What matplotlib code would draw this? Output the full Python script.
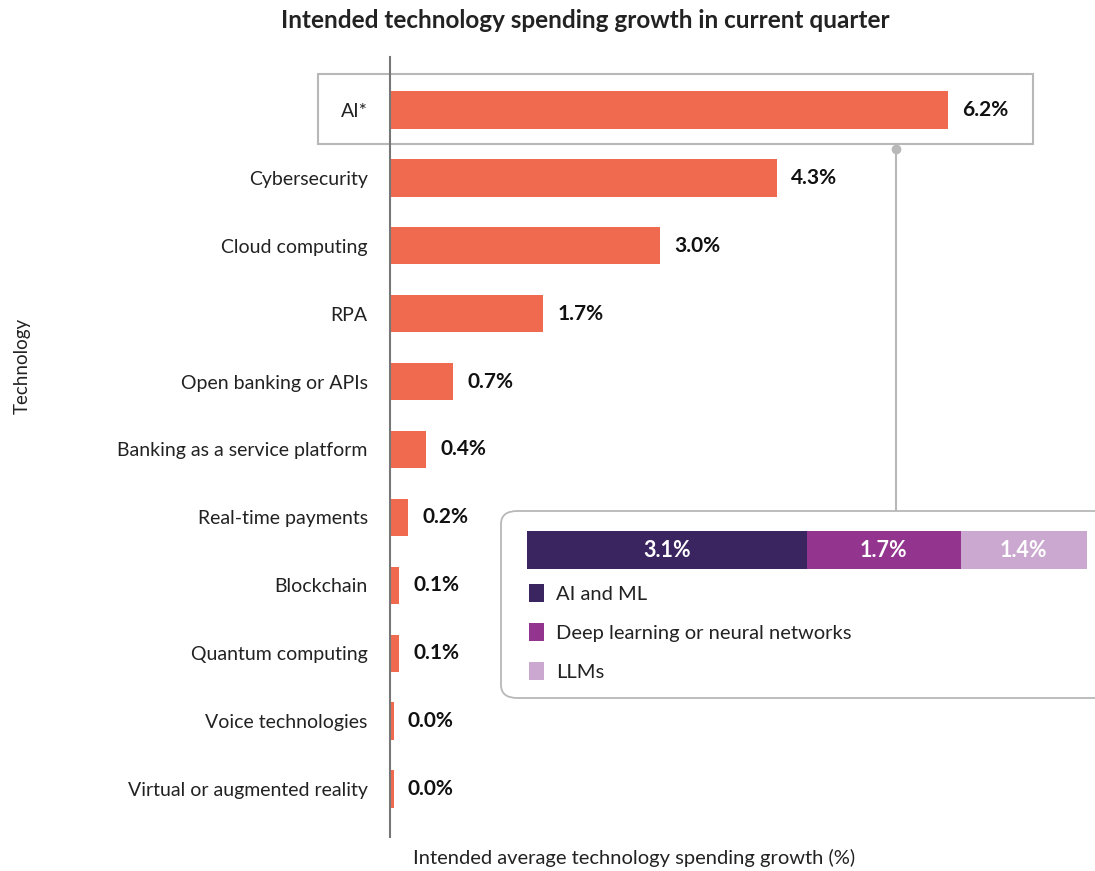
import matplotlib.pyplot as plt
from matplotlib.patches import Rectangle, FancyBboxPatch
from matplotlib.lines import Line2D

plt.rcParams['font.family'] = ['Lato', 'DejaVu Sans']

# spending growth by technology, in %
technologies = ["AI*", "Cybersecurity", "Cloud computing", "RPA", "Open banking or APIs",
                "Banking as a service platform", "Real-time payments", "Blockchain",
                "Quantum computing", "Voice technologies", "Virtual or augmented reality"]
growth = [6.2, 4.3, 3.0, 1.7, 0.7, 0.4, 0.2, 0.1, 0.1, 0.04, 0.04]

# breakdown of the AI figure
ai_parts = ["AI and ML", "Deep learning or neural networks", "LLMs"]
ai_values = [3.1, 1.7, 1.4]
ai_colors = ["#3b2560", "#93358f", "#cba8cf"]

BAR = "#f06a50"
GREY = "#b8b8b8"
W, H = 1095, 871


def fx(px):
    return px / W


def fy(py):
    return 1 - py / H


fig = plt.figure(figsize=(W / 100, H / 100), dpi=100)

# main axes: 90 px per percentage point, 68 px per row
ax = fig.add_axes([fx(390), fy(837), fx(1090) - fx(390), fy(57) - fy(837)])
ax.patch.set_visible(False)
ypos = list(range(len(technologies)))
ax.barh(ypos, growth, height=0.55, color=BAR)
ax.set_xlim(0, 700 / 90)
ax.set_ylim(10 + 48 / 68, -53 / 68)
ax.set_yticks(ypos)
ax.set_yticklabels(technologies, fontsize=14, color="#222222")
ax.tick_params(axis="y", length=0, pad=16)
ax.set_xticks([])
for side in ["top", "right", "bottom"]:
    ax.spines[side].set_visible(False)
ax.spines["left"].set_color("#777777")
ax.spines["left"].set_linewidth(1.5)

for y, v in zip(ypos, growth):
    ax.text(v + 0.16, y, f"{v:.1f}%", va="center", ha="left",
            fontsize=15, fontweight="bold", color="#111111")

# highlight box around the AI row
ax.add_patch(Rectangle((-72 / 90, -0.53), 715 / 90, 1.03, fill=False,
                       edgecolor=GREY, linewidth=1.5, clip_on=False))

fig.text(fx(585), fy(21), "Intended technology spending growth in current quarter",
         ha="center", va="center", fontsize=17.5, fontweight="bold", color="#222222")
fig.text(fx(413), fy(858), "Intended average technology spending growth (%)",
         ha="left", va="center", fontsize=14.5, color="#222222")
fig.text(fx(22), fy(366), "Technology", rotation=90, ha="center", va="center",
         fontsize=13.5, color="#222222")

# connector from the AI box down to the breakdown panel
fig.add_artist(Line2D([fx(896), fx(896)], [fy(149), fy(511)],
                      color=GREY, linewidth=1.5))
fig.add_artist(Line2D([fx(896)], [fy(149)], marker="o", markersize=6,
                      color=GREY, linestyle="none"))
panel = FancyBboxPatch((fx(501), fy(698)), fx(620), fy(511) - fy(698),
                       boxstyle="round,pad=0,rounding_size=0.015",
                       transform=fig.transFigure, facecolor="white",
                       edgecolor=GREY, linewidth=1.3, zorder=2)
fig.add_artist(panel)

# stacked bar of the AI breakdown
ax2 = fig.add_axes([fx(527), fy(569), fx(1087) - fx(527), fy(531) - fy(569)])
ax2.set_zorder(3)
left = 0
for name, v, c in zip(ai_parts, ai_values, ai_colors):
    ax2.barh(0, v, left=left, height=1, color=c, label=name)
    ax2.text(left + v / 2, 0, f"{v:.1f}%", ha="center", va="center",
             fontsize=15.5, fontweight="bold", color="white")
    left += v
ax2.set_xlim(0, sum(ai_values))
ax2.set_ylim(-0.5, 0.5)
ax2.axis("off")

leg = fig.legend(*ax2.get_legend_handles_labels(), loc="upper left",
                 bbox_to_anchor=(fx(511), fy(566)), frameon=False, fontsize=14.5,
                 handlelength=0.75, handleheight=1.0, handletextpad=0.6,
                 labelspacing=1.0, labelcolor="#222222")
leg.set_zorder(4)

fig.savefig("out.png", dpi=100)
